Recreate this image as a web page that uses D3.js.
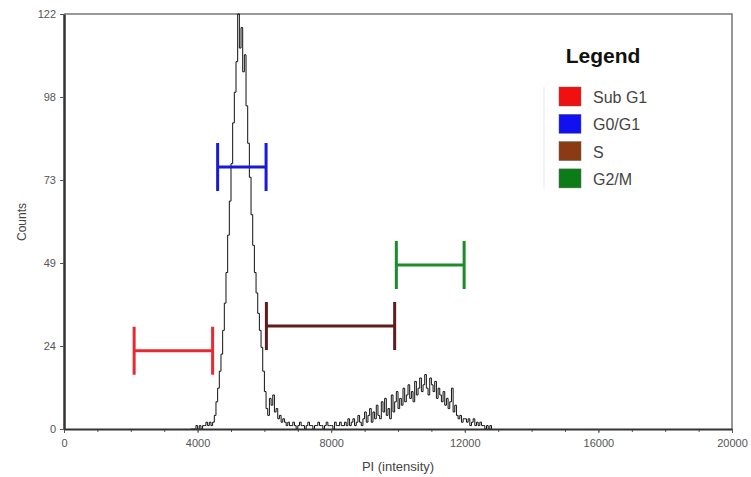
<!DOCTYPE html>
<html>
<head>
<meta charset="utf-8">
<script src="https://cdn.jsdelivr.net/npm/d3@7"></script>
<style>
  body { margin: 0; background: #fff; }
  text { font-family: Arial, "Liberation Sans", sans-serif; }
</style>
</head>
<body>
<div id="chart"></div>
<script>
// histogram: bins of 50 intensity units starting at binStart
const binStart = 3800;
const binWidth = 50;
const counts = [
  0, 0, 0, 1, 0, 1, 0, 1, 1, 2, 1, 2,              // 3800-4350
  1, 2, 4, 8, 12, 17, 22, 29, 37, 46, 57, 67,     // 4400-4950
  78, 90, 99, 108, 122, 112, 118, 105, 110, 95,   // 5000-5450
  84, 74, 63, 54, 46, 40, 34, 29, 24, 17, 11, 6,  // 5500-6050
  4, 9, 7, 10, 5, 6, 3, 4, 2, 3,                  // 6100-6550
  2, 1, 2, 1, 1, 2, 1, 0, 1, 2, 1, 1, 0, 1, 2, 1, // 6600-7350
  1, 0, 1, 1, 2, 1, 1, 0, 1, 2, 1, 1, 1, 0, 2, 1, // 7400-8150
  1, 2, 1, 1, 2, 1, 3, 1, 2, 3, 1, 2, 4, 2, 1, 3, // 8200-8950
  5, 2, 4, 6, 2, 5, 3, 7, 4, 3, 8, 5, 9, 4, 6, 3, // 9000-9750
  10, 5, 8, 11, 6, 9, 7, 12, 8, 10, 13, 9, 11, 8, 14, 10, // 9800-10550
  12, 15, 11, 13, 16, 12, 10, 15, 13, 11, 14, 9, 12, 10, 8, 11, // 10600-11350
  7, 9, 6, 8, 12, 5, 7, 4, 3, 4, 2, 3, 3, 2, 3, 1, // 11400-12150
  2, 3, 1, 2, 1, 2, 1, 1, 0, 1, 0, 1, 0           // 12200-12800
];

// gate markers
const gateNames = ['Sub G1', 'G0/G1', 'S', 'G2/M'];
const gateStart = [2100, 4600, 6060, 9950];
const gateEnd = [4450, 6050, 9900, 11980];
const gateLevel = [23, 77, 30.3, 48.2];
const gateColors = ['#e62a34', '#1a1ad6', '#5e1c1c', '#1a8c2a'];
const swatchColors = ['#f01010', '#1010f0', '#8b3a14', '#0c7c18'];

const yTicks = [0, 24.4, 48.8, 73.2, 97.6, 122];
const yTickLabels = ['0', '24', '49', '73', '98', '122'];
const xTicks = [0, 4000, 8000, 12000, 16000, 20000];

const w = 751;
const h = 477;
const mLeft = 64, mRight = 732, mTop = 14, mBottom = 429;

const svg = d3.select('#chart').append('svg').attr('width', w).attr('height', h)
  .style('background', '#fff');

const x = d3.scaleLinear().domain([0, 20000]).range([mLeft, mRight]);
const y = d3.scaleLinear().domain([0, 122]).range([mBottom, mTop]);

// top and right frame
svg.append('path')
   .attr('d', `M${mLeft},${mTop}H${mRight}V${mBottom}`)
   .attr('fill', 'none').attr('stroke', '#777').attr('stroke-width', 1.5);

// histogram line
const pts = counts.map((c, i) => [binStart + i * binWidth, Math.min(c, 122)]);
svg.append('path')
   .datum(pts)
   .attr('d', d3.line().x(d => x(d[0])).y(d => y(d[1])).curve(d3.curveStepAfter))
   .attr('fill', 'none')
   .attr('stroke', '#111')
   .attr('stroke-width', 1);

// x axis: minor ticks every 1000, labels every 4000
const xMinor = d3.range(0, 20001, 1000);
svg.append('g').attr('transform', `translate(0,${mBottom})`)
   .call(d3.axisBottom(x).tickValues(xMinor).tickSize(3).tickFormat(''))
   .call(g => g.select('.domain').remove())
   .call(g => g.selectAll('line').attr('stroke', '#555'));

svg.append('g').attr('transform', `translate(0,${mBottom})`)
   .call(d3.axisBottom(x).tickValues(xTicks).tickFormat(d3.format('d'))
           .tickSize(4).tickSizeOuter(0).tickPadding(6))
   .call(g => g.select('.domain').attr('stroke', '#333').attr('stroke-width', 2))
   .call(g => g.selectAll('line').attr('stroke', '#555'))
   .call(g => g.selectAll('text').attr('fill', '#555').attr('font-size', 11));

// y axis
svg.append('g').attr('transform', `translate(${mLeft},0)`)
   .call(d3.axisLeft(y).tickValues(yTicks).tickFormat((d, i) => yTickLabels[i])
           .tickSize(4).tickSizeOuter(0).tickPadding(4))
   .call(g => g.select('.domain').attr('stroke', '#333').attr('stroke-width', 2.5))
   .call(g => g.selectAll('line').attr('stroke', '#555'))
   .call(g => g.selectAll('text').attr('fill', '#555').attr('font-size', 11));

// axis titles
svg.append('text')
   .attr('x', 398).attr('y', 471)
   .attr('text-anchor', 'middle')
   .attr('font-size', 13).attr('fill', '#444')
   .text('PI (intensity)');

svg.append('text')
   .attr('transform', 'translate(26,222) rotate(-90)')
   .attr('text-anchor', 'middle')
   .attr('font-size', 12).attr('fill', '#444')
   .text('Counts');

// gates
const gates = svg.append('g').selectAll('g')
   .data(gateNames)
   .enter()
   .append('g')
   .attr('stroke', (d, i) => gateColors[i])
   .attr('stroke-width', 3)
   .attr('fill', 'none');

gates.append('path')
   .attr('d', (d, i) => {
     const x0 = x(gateStart[i]), x1 = x(gateEnd[i]), yy = y(gateLevel[i]);
     return `M${x0},${yy}H${x1}M${x0},${yy - 24}V${yy + 24}M${x1},${yy - 24}V${yy + 24}`;
   });

// legend
const lg = svg.append('g').attr('transform', 'translate(559,0)');
lg.append('text')
  .attr('x', 44).attr('y', 63)
  .attr('text-anchor', 'middle')
  .attr('font-size', 21).attr('font-weight', 'bold').attr('fill', '#111')
  .text('Legend');

lg.append('line')
  .attr('x1', -15).attr('x2', -15).attr('y1', 87).attr('y2', 188)
  .attr('stroke', '#dfe9ee').attr('stroke-width', 1);

const items = lg.selectAll('g.item')
  .data(gateNames)
  .enter()
  .append('g')
  .attr('class', 'item')
  .attr('transform', (d, i) => `translate(0,${87 + i * 27.3})`);

items.append('rect')
  .attr('width', 22).attr('height', 19)
  .attr('fill', (d, i) => swatchColors[i])
  .attr('stroke', '#666').attr('stroke-width', 0.5);

items.append('text')
  .attr('x', 34).attr('y', 16)
  .attr('font-size', 16).attr('fill', '#444')
  .text(d => d);
</script>
</body>
</html>
